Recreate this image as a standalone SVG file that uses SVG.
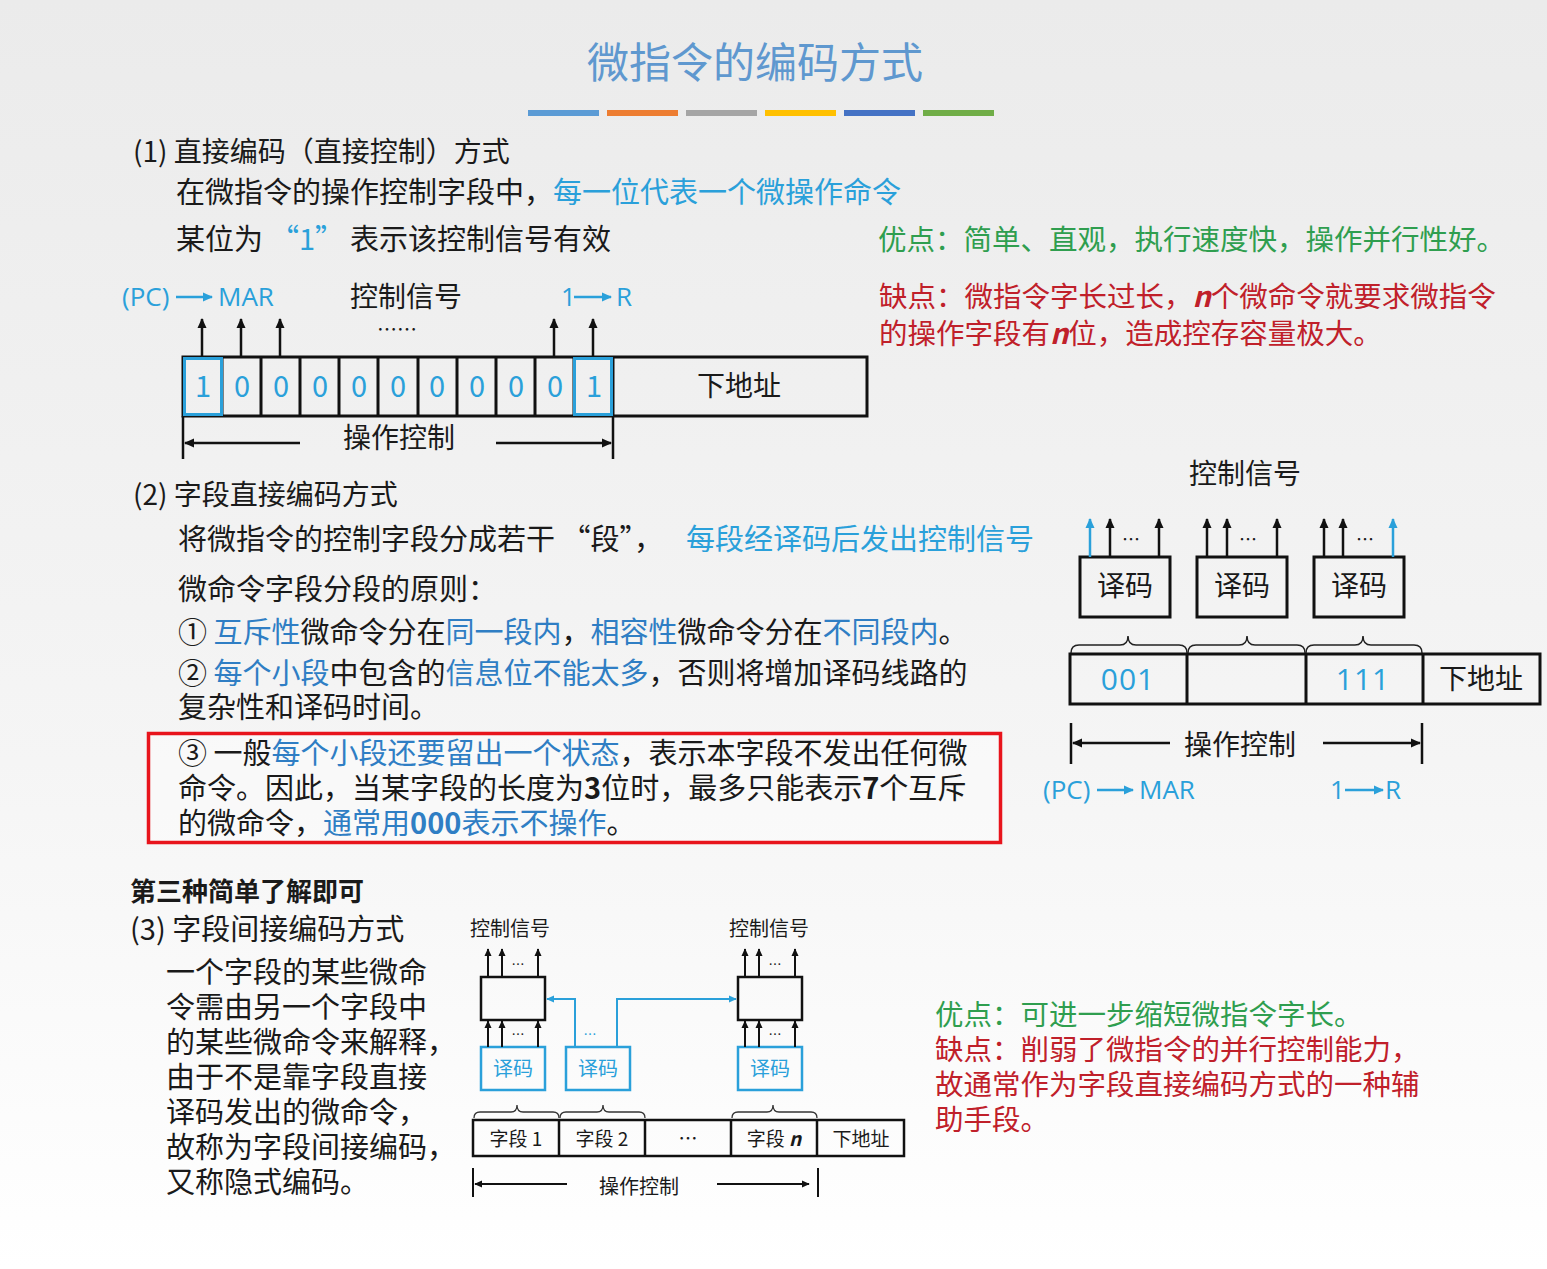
<svg xmlns="http://www.w3.org/2000/svg" width="1547" height="1269" viewBox="0 0 1547 1269">
<style>
text{font-family:"Noto Sans CJK SC","Noto Sans",sans-serif;fill:#1a1a1a}
.t{font-size:29px}
.h{font-size:28px}
.lb{fill:#2aa0da}
.db{fill:#2f7ec4}
.gr{fill:#2f9e4f}
.rd{fill:#c0202a}
.lat{font-family:"Open Sans","Liberation Sans",sans-serif}
.bluebox{fill:none;stroke:#2aa0da;stroke-width:3}
.blk{fill:none;stroke:#111;stroke-width:3}
.ln{fill:none;stroke:#111;stroke-width:2.5}
.bln{fill:none;stroke:#2aa0da;stroke-width:2.5}
</style>
<defs>
<linearGradient id="bg" x1="0" y1="0" x2="0" y2="1">
<stop offset="0" stop-color="#ebebeb"/>
<stop offset="0.6" stop-color="#f5f5f5"/>
<stop offset="1" stop-color="#ffffff"/>
</linearGradient>
<marker id="ah" viewBox="0 0 10 10" refX="9" refY="5" markerWidth="10" markerHeight="10" markerUnits="userSpaceOnUse" orient="auto"><path d="M0,0.5 L10,5 L0,9.5 z" fill="#111"/></marker>
<marker id="ahb" viewBox="0 0 10 10" refX="9" refY="5" markerWidth="10" markerHeight="10" markerUnits="userSpaceOnUse" orient="auto"><path d="M0,0.5 L10,5 L0,9.5 z" fill="#2aa0da"/></marker>
<marker id="ahs" viewBox="0 0 10 10" refX="9" refY="5" markerWidth="8" markerHeight="8" markerUnits="userSpaceOnUse" orient="auto"><path d="M0,0.5 L10,5 L0,9.5 z" fill="#111"/></marker>
<marker id="ahsb" viewBox="0 0 10 10" refX="9" refY="5" markerWidth="8" markerHeight="8" markerUnits="userSpaceOnUse" orient="auto"><path d="M0,0.5 L10,5 L0,9.5 z" fill="#2aa0da"/></marker>
</defs>
<rect x="0" y="0" width="1547" height="1269" fill="url(#bg)"/>

<g id="title">
<text x="755" y="78" text-anchor="middle" style="font-size:42px;fill:#5f98cf">微指令的编码方式</text>
<rect x="528" y="110" width="71" height="6" fill="#5b9bd5"/>
<rect x="607" y="110" width="71" height="6" fill="#ed7d31"/>
<rect x="686" y="110" width="71" height="6" fill="#a5a5a5"/>
<rect x="765" y="110" width="71" height="6" fill="#ffc000"/>
<rect x="844" y="110" width="71" height="6" fill="#4472c4"/>
<rect x="923" y="110" width="71" height="6" fill="#70ad47"/>
</g>

<g id="section1-text">
<text class="h" x="133" y="162">(1) 直接编码（直接控制）方式</text>
<text class="t" x="176" y="203">在微指令的操作控制字段中，<tspan class="lb">每一位代表一个微操作命令</tspan></text>
<text class="t" x="176" y="250">某位为<tspan class="lb" x="270">“1”</tspan><tspan x="350">表示该控制信号有效</tspan></text>
<text class="gr" x="878" y="250" style="font-size:28.5px">优点：简单、直观，执行速度快，操作并行性好。</text>
<text class="rd" x="879" y="307" style="font-size:28.5px">缺点：微指令字长过长，<tspan style="font-style:italic;font-weight:bold">n</tspan>个微命令就要求微指令</text>
<text class="rd" x="879" y="344" style="font-size:28.5px">的操作字段有<tspan style="font-style:italic;font-weight:bold">n</tspan>位，造成控存容量极大。</text>
</g>

<g id="diagram1">
<g id="d1-labels">
<text class="lat lb" x="122" y="306" style="font-size:26px">(PC)</text>
<text class="lat lb" x="218" y="306" style="font-size:26px">MAR</text>
<text class="h" x="350" y="307">控制信号</text>
<text x="397" y="337" text-anchor="middle" style="font-size:20px">……</text>
<text class="lat lb" x="561" y="306" style="font-size:26px">1</text>
<text class="lat lb" x="616" y="306" style="font-size:26px">R</text>
</g>
<g id="d1-word">
<rect class="blk" x="183" y="357" width="684" height="59"/>
<path class="blk" d="M222,357V416M261,357V416M300,357V416M339,357V416M378,357V416M418,357V416M457,357V416M496,357V416M535,357V416M574,357V416M613,357V416"/>
<rect class="bluebox" x="184.5" y="358.5" width="37" height="56"/>
<rect class="bluebox" x="574.5" y="358.5" width="37" height="56"/>
<g class="lat" style="font-size:29px" text-anchor="middle">
<text class="lb" x="203" y="397">1</text>
<text class="lb" x="242" y="397">0</text>
<text class="lb" x="281" y="397">0</text>
<text class="lb" x="320" y="397">0</text>
<text class="lb" x="359" y="397">0</text>
<text class="lb" x="398" y="397">0</text>
<text class="lb" x="437" y="397">0</text>
<text class="lb" x="477" y="397">0</text>
<text class="lb" x="516" y="397">0</text>
<text class="lb" x="555" y="397">0</text>
<text class="lb" x="594" y="397">1</text>
</g>
<text class="h" x="739" y="396" text-anchor="middle">下地址</text>
<text class="h" x="399" y="448" text-anchor="middle">操作控制</text>
</g>
<g id="d1-connectors">
<path class="ln" d="M202,357V319" marker-end="url(#ah)"/>
<path class="ln" d="M241,357V319" marker-end="url(#ah)"/>
<path class="ln" d="M280,357V319" marker-end="url(#ah)"/>
<path class="ln" d="M554,357V319" marker-end="url(#ah)"/>
<path class="ln" d="M593,357V319" marker-end="url(#ah)"/>
<path class="ln" d="M176,297H212" style="stroke:#2aa0da" marker-end="url(#ahb)"/>
<path class="ln" d="M574,297H611" style="stroke:#2aa0da" marker-end="url(#ahb)"/>
<path class="ln" d="M183,416V459M613,416V459"/>
<path class="ln" d="M300,443H185" marker-end="url(#ah)"/>
<path class="ln" d="M496,443H611" marker-end="url(#ah)"/>
</g>
</g>

<g id="section2-text">
<text class="h" x="133" y="505">(2) 字段直接编码方式</text>
<text class="t" x="178" y="550">将微指令的控制字段分成若干 “段”，<tspan class="lb" x="686">每段经译码后发出控制信号</tspan></text>
<text class="t" x="178" y="600">微命令字段分段的原则：</text>
<text class="t" x="178" y="643">① <tspan class="db">互斥性</tspan>微命令分在<tspan class="db">同一段内</tspan>，<tspan class="db">相容性</tspan>微命令分在<tspan class="db">不同段内</tspan>。</text>
<text class="t" x="178" y="684">② <tspan class="db">每个小段</tspan>中包含的<tspan class="db">信息位不能太多</tspan>，否则将增加译码线路的</text>
<text class="t" x="178" y="718">复杂性和译码时间。</text>
<rect x="148.5" y="733.5" width="852" height="109" fill="#ffffff" fill-opacity="0.4" stroke="#e8141c" stroke-width="3.5"/>
<text class="t" x="178" y="764">③ 一般<tspan class="db">每个小段还要留出一个状态</tspan>，表示本字段不发出任何微</text>
<text class="t" x="178" y="799">命令。因此，当某字段的长度为<tspan style="font-weight:bold">3</tspan>位时，最多只能表示<tspan style="font-weight:bold">7</tspan>个互斥</text>
<text class="t" x="178" y="834">的微命令，<tspan class="db">通常用<tspan style="font-weight:bold">000</tspan>表示不操作</tspan>。</text>
</g>

<g id="diagram2">
<text class="h" x="1245" y="484" text-anchor="middle">控制信号</text>
<g id="d2-dec1">
<rect class="blk" x="1080" y="557" width="90" height="60"/>
<text class="h" x="1125" y="596" text-anchor="middle">译码</text>
</g>
<g id="d2-dec2">
<rect class="blk" x="1197" y="557" width="90" height="60"/>
<text class="h" x="1242" y="596" text-anchor="middle">译码</text>
</g>
<g id="d2-dec3">
<rect class="blk" x="1314" y="557" width="90" height="60"/>
<text class="h" x="1359" y="596" text-anchor="middle">译码</text>
</g>
<g id="d2-fields">
<rect class="blk" x="1070" y="654" width="470" height="50"/>
<path class="blk" d="M1187,654V704M1306,654V704M1423,654V704"/>
<text class="lat lb" x="1128" y="690" text-anchor="middle" style="font-size:30px;letter-spacing:1px">001</text>
<text class="lat lb" x="1363" y="690" text-anchor="middle" style="font-size:30px;letter-spacing:1px">111</text>
<text class="h" x="1481" y="689" text-anchor="middle">下地址</text>
</g>
<text class="h" x="1240" y="755" text-anchor="middle">操作控制</text>
<text class="lat lb" x="1043" y="799" style="font-size:26px">(PC)</text>
<text class="lat lb" x="1139" y="799" style="font-size:26px">MAR</text>
<text class="lat lb" x="1330" y="799" style="font-size:26px">1</text>
<text class="lat lb" x="1385" y="799" style="font-size:26px">R</text>
<g style="font-size:18px" text-anchor="middle">
<text x="1131" y="546">…</text>
<text x="1248" y="546">…</text>
<text x="1365" y="546">…</text>
</g>
<g id="d2-connectors">
<path class="ln" d="M1090,557V519" style="stroke:#2aa0da" marker-end="url(#ahb)"/>
<path class="ln" d="M1110,557V519" marker-end="url(#ah)"/>
<path class="ln" d="M1159,557V519" marker-end="url(#ah)"/>
<path class="ln" d="M1207,557V519" marker-end="url(#ah)"/>
<path class="ln" d="M1227,557V519" marker-end="url(#ah)"/>
<path class="ln" d="M1277,557V519" marker-end="url(#ah)"/>
<path class="ln" d="M1324,557V519" marker-end="url(#ah)"/>
<path class="ln" d="M1343,557V519" marker-end="url(#ah)"/>
<path class="ln" d="M1393,557V519" style="stroke:#2aa0da" marker-end="url(#ahb)"/>
<path fill="none" stroke="#222" stroke-width="1.5" d="M1071,653Q1071,645 1079,645H1120Q1128,645 1128,636Q1128,645 1136,645H1179Q1187,645 1187,653"/>
<path fill="none" stroke="#222" stroke-width="1.5" d="M1188,653Q1188,645 1196,645H1239Q1247,645 1247,636Q1247,645 1255,645H1297Q1305,645 1305,653"/>
<path fill="none" stroke="#222" stroke-width="1.5" d="M1306,653Q1306,645 1314,645H1355Q1363,645 1363,636Q1363,645 1371,645H1414Q1422,645 1422,653"/>
<path class="ln" d="M1071,723V764M1422,723V764"/>
<path class="ln" d="M1170,743H1073" marker-end="url(#ah)"/>
<path class="ln" d="M1323,743H1420" marker-end="url(#ah)"/>
<path class="ln" d="M1097,790H1133" style="stroke:#2aa0da" marker-end="url(#ahb)"/>
<path class="ln" d="M1345,790H1383" style="stroke:#2aa0da" marker-end="url(#ahb)"/>
</g>
</g>

<g id="section3-text">
<text x="130" y="901" style="font-size:26px;font-weight:bold">第三种简单了解即可</text>
<text class="t" x="130" y="940">(3) 字段间接编码方式</text>
<text class="t" x="166" y="983">一个字段的某些微命</text>
<text class="t" x="166" y="1018">令需由另一个字段中</text>
<text class="t" x="166" y="1053">的某些微命令来解释，</text>
<text class="t" x="166" y="1088">由于不是靠字段直接</text>
<text class="t" x="166" y="1123">译码发出的微命令，</text>
<text class="t" x="166" y="1158">故称为字段间接编码，</text>
<text class="t" x="166" y="1193">又称隐式编码。</text>
<text class="gr" x="935" y="1025" style="font-size:28.5px">优点：可进一步缩短微指令字长。</text>
<text class="rd" x="935" y="1060" style="font-size:28.5px">缺点：削弱了微指令的并行控制能力，</text>
<text class="rd" x="935" y="1095" style="font-size:28.5px">故通常作为字段直接编码方式的一种辅</text>
<text class="rd" x="935" y="1130" style="font-size:28.5px">助手段。</text>
</g>

<g id="diagram3">
<text x="510" y="936" text-anchor="middle" style="font-size:20px">控制信号</text>
<text x="769" y="936" text-anchor="middle" style="font-size:20px">控制信号</text>
<g id="d3-box1"><rect x="481" y="977" width="64" height="43" fill="none" stroke="#111" stroke-width="2.5"/></g>
<g id="d3-box2"><rect x="738" y="977" width="64" height="43" fill="none" stroke="#111" stroke-width="2.5"/></g>
<g id="d3-dec1"><rect x="481" y="1047" width="64" height="43" fill="none" stroke="#2aa0da" stroke-width="2.5"/><text class="lb" x="513" y="1076" text-anchor="middle" style="font-size:20px">译码</text></g>
<g id="d3-dec2"><rect x="566" y="1047" width="64" height="43" fill="none" stroke="#2aa0da" stroke-width="2.5"/><text class="lb" x="598" y="1076" text-anchor="middle" style="font-size:20px">译码</text></g>
<g id="d3-dec3"><rect x="738" y="1047" width="64" height="43" fill="none" stroke="#2aa0da" stroke-width="2.5"/><text class="lb" x="770" y="1076" text-anchor="middle" style="font-size:20px">译码</text></g>
<g id="d3-fields">
<rect x="473" y="1120" width="431" height="36" fill="none" stroke="#111" stroke-width="2.5"/>
<path fill="none" stroke="#111" stroke-width="2.5" d="M559,1120V1156M645,1120V1156M731,1120V1156M817,1120V1156"/>
<text x="516" y="1146" text-anchor="middle" style="font-size:19px">字段 1</text>
<text x="602" y="1146" text-anchor="middle" style="font-size:19px">字段 2</text>
<text x="688" y="1146" text-anchor="middle" style="font-size:19px">…</text>
<text x="774" y="1146" text-anchor="middle" style="font-size:19px">字段 <tspan style="font-style:italic;font-weight:bold">n</tspan></text>
<text x="861" y="1146" text-anchor="middle" style="font-size:19px">下地址</text>
</g>
<text x="639" y="1194" text-anchor="middle" style="font-size:20px">操作控制</text>
<g style="font-size:13px" text-anchor="middle">
<text x="518" y="969">…</text>
<text x="518" y="1039">…</text>
<text x="775" y="969">…</text>
<text x="775" y="1039">…</text>
<text class="lb" x="590" y="1039">…</text>
</g>
<g id="d3-connectors">
<path fill="none" stroke="#111" stroke-width="2" d="M488,977V949" marker-end="url(#ahs)"/>
<path fill="none" stroke="#111" stroke-width="2" d="M502,977V949" marker-end="url(#ahs)"/>
<path fill="none" stroke="#111" stroke-width="2" d="M538,977V949" marker-end="url(#ahs)"/>
<path fill="none" stroke="#111" stroke-width="2" d="M745,977V949" marker-end="url(#ahs)"/>
<path fill="none" stroke="#111" stroke-width="2" d="M759,977V949" marker-end="url(#ahs)"/>
<path fill="none" stroke="#111" stroke-width="2" d="M795,977V949" marker-end="url(#ahs)"/>
<path fill="none" stroke="#111" stroke-width="2" d="M488,1047V1021" marker-end="url(#ahs)"/>
<path fill="none" stroke="#111" stroke-width="2" d="M502,1047V1021" marker-end="url(#ahs)"/>
<path fill="none" stroke="#111" stroke-width="2" d="M538,1047V1021" marker-end="url(#ahs)"/>
<path fill="none" stroke="#111" stroke-width="2" d="M745,1047V1021" marker-end="url(#ahs)"/>
<path fill="none" stroke="#111" stroke-width="2" d="M759,1047V1021" marker-end="url(#ahs)"/>
<path fill="none" stroke="#111" stroke-width="2" d="M795,1047V1021" marker-end="url(#ahs)"/>
<path fill="none" stroke="#2aa0da" stroke-width="2" d="M575,1047V999H547" marker-end="url(#ahsb)"/>
<path fill="none" stroke="#2aa0da" stroke-width="2" d="M617,1047V999H736" marker-end="url(#ahsb)"/>
<path fill="none" stroke="#333" stroke-width="1.3" d="M474,1118Q474,1112 480,1112H511Q517,1112 517,1105Q517,1112 523,1112H553Q559,1112 559,1118"/>
<path fill="none" stroke="#333" stroke-width="1.3" d="M560,1118Q560,1112 566,1112H597Q603,1112 603,1105Q603,1112 609,1112H639Q645,1112 645,1118"/>
<path fill="none" stroke="#333" stroke-width="1.3" d="M732,1118Q732,1112 738,1112H767Q773,1112 773,1105Q773,1112 779,1112H811Q817,1112 817,1118"/>
<path fill="none" stroke="#111" stroke-width="2" d="M473,1168V1197M818,1168V1197"/>
<path fill="none" stroke="#111" stroke-width="1.8" d="M567,1184H475" marker-end="url(#ahs)"/>
<path fill="none" stroke="#111" stroke-width="1.8" d="M717,1184H809" marker-end="url(#ahs)"/>
</g>
</g>
</svg>
